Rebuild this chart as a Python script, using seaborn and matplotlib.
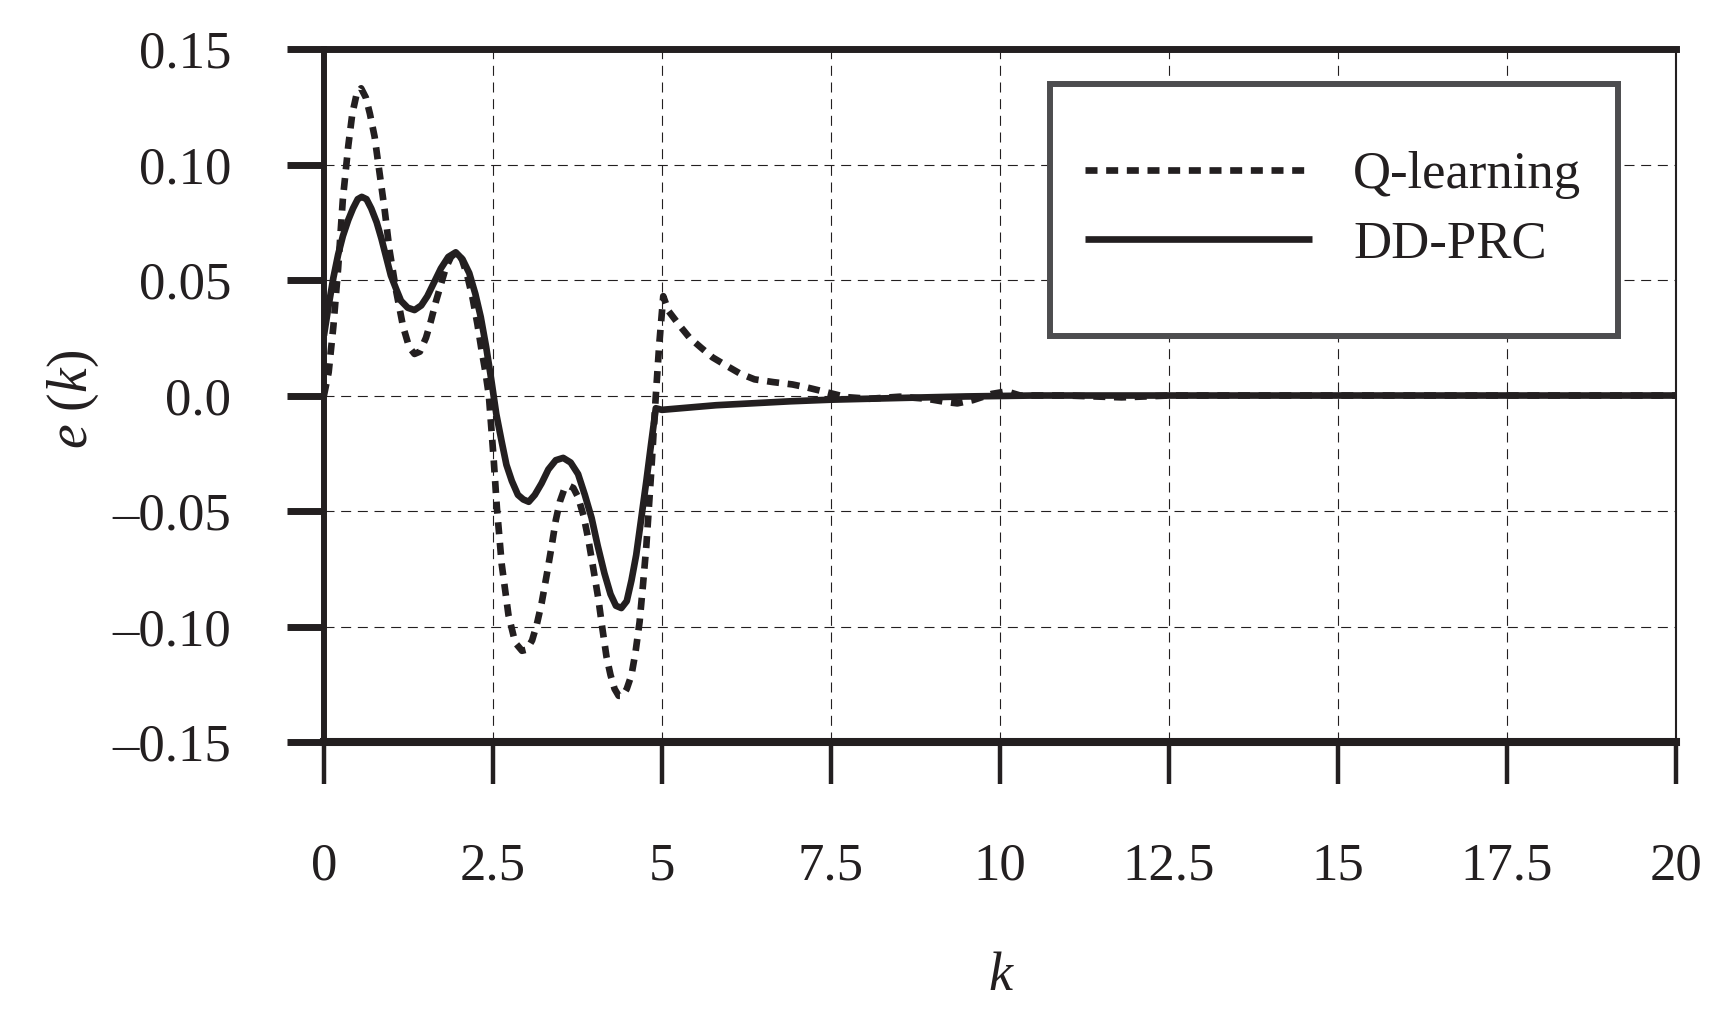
import matplotlib
matplotlib.use('Agg')
import matplotlib.pyplot as plt
import matplotlib.patches as mpatches
import seaborn as sns

# error curves
k_q = [0.0, 0.07, 0.14, 0.21, 0.28, 0.36, 0.42, 0.48, 0.55, 0.62, 0.68, 0.75, 0.82, 0.90,
       0.97, 1.07, 1.17, 1.26, 1.34, 1.42, 1.51, 1.58, 1.66, 1.80, 1.88, 1.96, 2.04, 2.12,
       2.20, 2.27, 2.33, 2.39, 2.44, 2.51, 2.56, 2.63, 2.73, 2.83, 2.93, 3.00, 3.08, 3.15,
       3.22, 3.30, 3.37, 3.43, 3.49, 3.55, 3.62, 3.69, 3.76, 3.84, 3.91, 3.98, 4.06, 4.12,
       4.18, 4.24, 4.30, 4.36, 4.42, 4.48, 4.55, 4.61, 4.67, 4.72, 4.77, 4.84, 4.91, 4.96,
       5.02, 5.10, 5.27, 5.41, 5.58, 5.75, 5.95, 6.15, 6.37, 6.65, 6.93, 7.16, 7.44, 7.73,
       8.07, 8.52, 8.92, 9.20, 9.37, 9.60, 9.88, 10.1, 10.3, 11.0, 11.8, 12.5, 14.0, 16.0,
       18.0, 20.0]
e_q = [0.0, 0.010, 0.030, 0.055, 0.085, 0.108, 0.122, 0.130, 0.133, 0.129, 0.122, 0.112,
       0.097, 0.080, 0.063, 0.045, 0.030, 0.021, 0.018, 0.019, 0.025, 0.032, 0.041, 0.055,
       0.060, 0.062, 0.059, 0.052, 0.042, 0.031, 0.020, 0.010, 0.0, -0.027, -0.049, -0.073,
       -0.095, -0.107, -0.1105, -0.110, -0.106, -0.099, -0.090, -0.077, -0.065, -0.054,
       -0.046, -0.041, -0.039, -0.040, -0.044, -0.052, -0.062, -0.074, -0.088, -0.101,
       -0.113, -0.121, -0.127, -0.130, -0.130, -0.127, -0.121, -0.111, -0.098, -0.082,
       -0.065, -0.034, 0.0, 0.022, 0.043, 0.0365, 0.030, 0.025, 0.0207, 0.0165, 0.013,
       0.0096, 0.007, 0.0058, 0.0048, 0.0034, 0.0014, -0.0007, -0.0014, -0.0005, -0.0014,
       -0.0028, -0.0034, -0.002, 0.0007, 0.0018, 0.0, 0.0, -0.0008, 0.0, 0.0, 0.0, 0.0, 0.0]

k_dd = [0.0, 0.07, 0.14, 0.21, 0.28, 0.36, 0.43, 0.50, 0.56, 0.63, 0.70, 0.78, 0.85, 0.92,
        0.99, 1.07, 1.14, 1.24, 1.34, 1.44, 1.53, 1.63, 1.73, 1.84, 1.95, 2.05, 2.15, 2.24,
        2.32, 2.40, 2.47, 2.55, 2.63, 2.70, 2.78, 2.87, 2.95, 3.03, 3.12, 3.22, 3.32, 3.43,
        3.54, 3.65, 3.76, 3.86, 3.96, 4.05, 4.15, 4.24, 4.32, 4.40, 4.48, 4.55, 4.62, 4.70,
        4.77, 4.84, 4.91, 5.0, 5.8, 6.9, 7.5, 8.6, 9.5, 10.5, 12.0, 14.0, 16.0, 18.0, 20.0]
e_dd = [0.026, 0.039, 0.051, 0.061, 0.069, 0.076, 0.081, 0.085, 0.086, 0.085, 0.081, 0.075,
        0.068, 0.060, 0.052, 0.046, 0.041, 0.038, 0.037, 0.039, 0.043, 0.049, 0.055, 0.060,
        0.062, 0.059, 0.053, 0.044, 0.034, 0.021, 0.008, -0.008, -0.020, -0.030, -0.037,
        -0.043, -0.045, -0.046, -0.043, -0.038, -0.032, -0.028, -0.027, -0.029, -0.034,
        -0.043, -0.053, -0.065, -0.077, -0.086, -0.091, -0.092, -0.089, -0.080, -0.069,
        -0.052, -0.037, -0.021, -0.0055, -0.0062, -0.0042, -0.0025, -0.0018, -0.0010,
        -0.0004, 0.0, 0.0, 0.0, 0.0, 0.0, 0.0]

x_ticks = [0, 2.5, 5, 7.5, 10, 12.5, 15, 17.5, 20]
x_labels = ['0', '2.5', '5', '7.5', '10', '12.5', '15', '17.5', '20']
y_ticks = [0.15, 0.10, 0.05, 0.0, -0.05, -0.10, -0.15]
y_labels = ['0.15', '0.10', '0.05', '0.0', '\u20130.05', '\u20130.10', '\u20130.15']

ink = '#231f20'

sns.set_style('white')
plt.rcParams['font.family'] = ['Liberation Serif', 'DejaVu Serif']
plt.rcParams['mathtext.fontset'] = 'custom'
plt.rcParams['mathtext.rm'] = 'Liberation Serif'
plt.rcParams['mathtext.it'] = 'Liberation Serif:italic'
plt.rcParams['lines.solid_capstyle'] = 'butt'
plt.rcParams['lines.dash_capstyle'] = 'butt'

fig = plt.figure(figsize=(17.35, 10.13), dpi=100)
ax = fig.add_axes([0.1867, 0.2675, 0.7792, 0.6841])

sns.lineplot(x=k_q, y=e_q, ax=ax, color=ink, lw=4.8, linestyle=(0, (1.8, 1.3)),
             estimator=None, sort=False, label='Q-learning', legend=False)
sns.lineplot(x=k_dd, y=e_dd, ax=ax, color=ink, lw=4.8, linestyle='-',
             estimator=None, sort=False, label='DD-PRC', legend=False)

ax.set_xlim(0, 20)
ax.set_ylim(-0.15, 0.15)
ax.set_xticks(x_ticks)
ax.set_xticklabels(x_labels)
ax.set_yticks(y_ticks)
ax.set_yticklabels(y_labels)

ax.set_axisbelow(True)
ax.grid(True, color=ink, lw=0.8, ls=(0, (9, 6)))

ax.tick_params(axis='y', left=True, length=26.6, width=5, pad=40, labelsize=38,
               colors=ink, direction='out')
ax.tick_params(axis='x', bottom=True, length=30, width=3.2, pad=42, labelsize=38,
               colors=ink, direction='out')

for side, w in [('top', 5), ('left', 4.3), ('bottom', 5.8), ('right', 1.5)]:
    ax.spines[side].set_visible(True)
    ax.spines[side].set_linewidth(w)
    ax.spines[side].set_color(ink)

ax.set_xlabel('$k$', fontsize=39, color=ink)
ax.xaxis.set_label_coords(0.501, -0.302)
ax.set_ylabel('$e\\ (k)$', fontsize=40, color=ink)
ax.yaxis.set_label_coords(-0.165, 0.494)

# legend box
box = mpatches.Rectangle((0.537, 0.586), 0.42, 0.3635, transform=ax.transAxes,
                         facecolor='white', edgecolor='#4d4d4f', lw=4.3, zorder=4)
ax.add_patch(box)
handles, labels = ax.get_legend_handles_labels()
leg = ax.legend(handles, labels, loc='center left', bbox_to_anchor=(0.563, 0.768),
                frameon=False, fontsize=38, handlelength=4.3, handletextpad=0.78,
                labelspacing=0.4, borderpad=0, borderaxespad=0)
leg.set_zorder(5)
for t in leg.get_texts():
    t.set_color(ink)

fig.savefig('out.png', dpi=100, facecolor='white')
